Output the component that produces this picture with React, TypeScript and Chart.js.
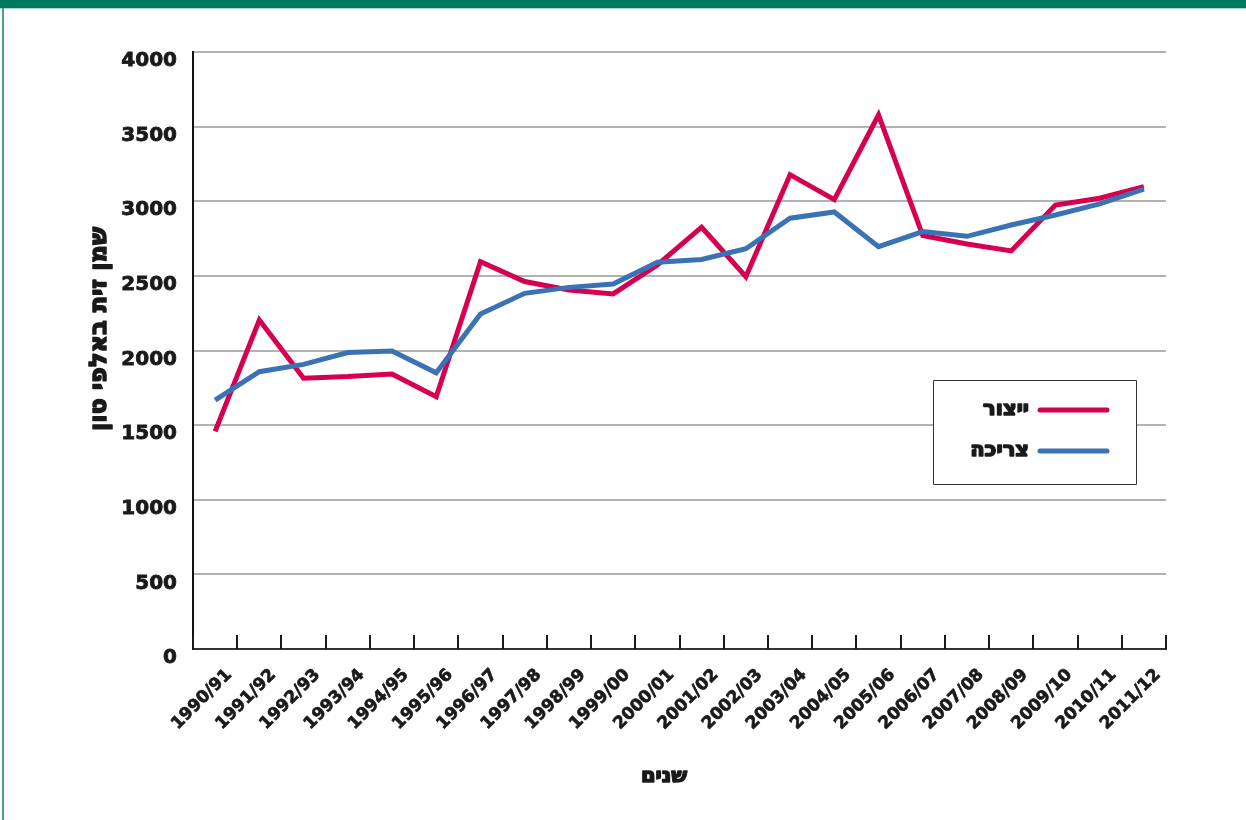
import React, { useEffect, useRef } from "react";
import { Chart, registerables } from "chart.js";

Chart.register(...registerables);

const categories = [
  "1990/91", "1991/92", "1992/93", "1993/94", "1994/95", "1995/96", "1996/97",
  "1997/98", "1998/99", "1999/00", "2000/01", "2001/02", "2002/03", "2003/04",
  "2004/05", "2005/06", "2006/07", "2007/08", "2008/09", "2009/10", "2010/11", "2011/12",
];

const productionLabel = "ייצור";
const production = [
  1458, 2204, 1814, 1825, 1843, 1690, 2595, 2462, 2405, 2379, 2573,
  2826, 2495, 3178, 3011, 3578, 2770, 2714, 2667, 2975, 3020, 3098,
];

const consumptionLabel = "צריכה";
const consumption = [
  1668, 1858, 1907, 1986, 1997, 1851, 2245, 2383, 2423, 2446, 2591,
  2610, 2682, 2886, 2928, 2696, 2797, 2765, 2841, 2908, 2982, 3082,
];

const yTitle = "שמן זית באלפי טון";
const xTitle = "שנים";
const yMin = 0;
const yMax = 4000;
const yStep = 500;

const RED = "#d5004f";
const BLUE = "#3a72b5";
const TEXT = "#1a1a1a";
const FONT = "'DejaVu Sans', Verdana, sans-serif";
const HFONT = "'DejaVu Sans', 'Liberation Sans', Arial, sans-serif";

function boldText(ctx: CanvasRenderingContext2D, s: string, x: number, y: number, w: number) {
  ctx.fillText(s, x, y);
  ctx.lineWidth = w;
  ctx.strokeStyle = TEXT;
  ctx.lineJoin = "round";
  ctx.strokeText(s, x, y);
}

const decorPlugin = {
  id: "decor",
  afterDraw(chart: any) {
    const ctx = chart.ctx;
    const xs = chart.scales.x;
    const area = chart.chartArea;
    ctx.save();
    // inward x ticks at category boundaries
    const n = categories.length;
    ctx.strokeStyle = TEXT;
    ctx.lineWidth = 2;
    for (let k = 0; k <= n; k++) {
      let px: number;
      if (k === 0) px = area.left;
      else if (k === n) px = area.right;
      else px = (xs.getPixelForValue(k - 1) + xs.getPixelForValue(k)) / 2;
      px = Math.round(px);
      ctx.beginPath();
      ctx.moveTo(px, area.bottom);
      ctx.lineTo(px, area.bottom - 14);
      ctx.stroke();
    }
    // titles
    ctx.fillStyle = TEXT;
    ctx.font = `bold 21px ${HFONT}`;
    ctx.textAlign = "center";
    ctx.textBaseline = "middle";
    boldText(ctx, xTitle, 664, 777, 1.6);
    ctx.save();
    ctx.translate(100, 329);
    ctx.rotate(-Math.PI / 2);
    ctx.font = `bold 24px ${HFONT}`;
    boldText(ctx, yTitle, 0, 0, 1.6);
    ctx.restore();
    // legend
    ctx.fillStyle = "#ffffff";
    ctx.fillRect(933, 380, 203, 104);
    ctx.strokeStyle = "#333333";
    ctx.lineWidth = 1;
    ctx.strokeRect(933.5, 380.5, 203, 104);
    const ys = [410, 451];
    chart.data.datasets.forEach((ds: any, i: number) => {
      ctx.strokeStyle = ds.borderColor;
      ctx.lineWidth = 5;
      ctx.lineCap = "round";
      ctx.beginPath();
      ctx.moveTo(1040, ys[i]);
      ctx.lineTo(1107, ys[i]);
      ctx.stroke();
      ctx.fillStyle = TEXT;
      ctx.font = `bold 21px ${HFONT}`;
      ctx.textAlign = "right";
      ctx.textBaseline = "middle";
      boldText(ctx, ds.label, 1029, ys[i], 1.6);
    });
    ctx.restore();
  },
};

export default function App() {
  const ref = useRef<HTMLCanvasElement | null>(null);
  useEffect(() => {
    if (!ref.current) return;
    const chart = new Chart(ref.current, {
      type: "line",
      data: {
        labels: categories,
        datasets: [
          {
            label: productionLabel,
            data: production,
            borderColor: RED,
            backgroundColor: RED,
            borderWidth: 5,
            pointRadius: 0,
            tension: 0,
            order: 1,
          },
          {
            label: consumptionLabel,
            data: consumption,
            borderColor: BLUE,
            backgroundColor: BLUE,
            borderWidth: 5,
            pointRadius: 0,
            tension: 0,
            order: 0,
          },
        ],
      },
      options: {
        responsive: false,
        animation: false,
        layout: { padding: { left: 0, top: 52, right: 80, bottom: 0 } },
        plugins: { legend: { display: false }, tooltip: { enabled: false } },
        scales: {
          x: {
            type: "category",
            offset: true,
            grid: { display: false, drawTicks: false },
            border: { display: true, color: "#333333", width: 2 },
            ticks: {
              autoSkip: false,
              minRotation: 45,
              maxRotation: 45,
              padding: 16,
              labelOffset: 14,
              color: TEXT,
              textStrokeColor: TEXT,
              textStrokeWidth: 0.7,
              font: { family: FONT, size: 17, weight: "bold" },
            },
            afterFit(scale: any) {
              scale.height = 171;
            },
          },
          y: {
            min: yMin,
            max: yMax,
            grid: { color: "#b3b3b3", lineWidth: 2, drawTicks: false },
            border: { display: true, color: "#111111", width: 2 },
            ticks: {
              stepSize: yStep,
              padding: 16,
              labelOffset: 9,
              color: TEXT,
              textStrokeColor: TEXT,
              textStrokeWidth: 0.8,
              font: { family: FONT, size: 20, weight: "bold" },
              callback: (v: any) => String(v),
            },
            afterFit(scale: any) {
              scale.width = 193;
            },
          },
        },
      },
      plugins: [decorPlugin],
    });
    return () => chart.destroy();
  }, []);
  return (
    <div style={{ position: "absolute", left: 0, top: 0, width: 1246, height: 820, background: "#fff" }}>
      <div style={{ position: "absolute", left: 0, top: 0, width: 1246, height: 8, background: "#00785f" }} />
      <div style={{ position: "absolute", left: 0, top: 8, width: 1246, height: 1, background: "#a9dccf" }} />
      <div style={{ position: "absolute", left: 2, top: 8, width: 2, height: 812, background: "#4f9f8b" }} />
      <canvas ref={ref} width={1246} height={820} style={{ position: "absolute", left: 0, top: 0 }} />
    </div>
  );
}
